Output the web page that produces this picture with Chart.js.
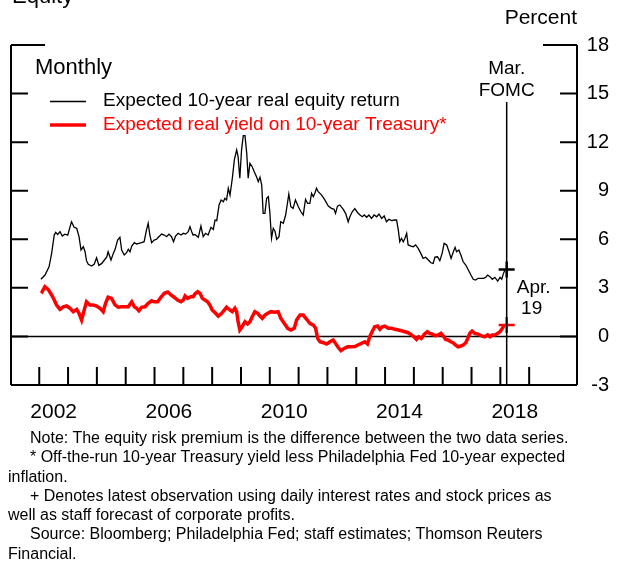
<!DOCTYPE html>
<html>
<head>
<meta charset="utf-8">
<script src="https://cdn.jsdelivr.net/npm/chart.js@4"></script>
<style>
  html, body { margin: 0; padding: 0; background: #fff; }
  #wrap { position: relative; width: 618px; height: 563px; overflow: hidden; }
  canvas { display: block; }
  #notes {
    position: absolute; left: 8px; top: 428px; width: 610px;
    font: 16px "Liberation Sans", Arial, sans-serif; line-height: 19.3px;
    color: #000; white-space: nowrap;
  }
  #notes p { margin: 0; text-indent: 22px; }
</style>
</head>
<body>
<div id="wrap">
  <canvas id="erp" width="618" height="563"></canvas>
  <div id="notes">
    <p>Note: The equity risk premium is the difference between the two data series.</p>
    <p>* Off-the-run 10-year Treasury yield less Philadelphia Fed 10-year expected<br>inflation.</p>
    <p>+ Denotes latest observation using daily interest rates and stock prices as<br>well as staff forecast of corporate profits.</p>
    <p>Source: Bloomberg; Philadelphia Fed; staff estimates; Thomson Reuters<br>Financial.</p>
  </div>
</div>
<script>
// monthly observations, dates in decimal years
const equityDates = [
  2002.06, 2002.20, 2002.34, 2002.43, 2002.52, 2002.57, 2002.64, 2002.72, 2002.80, 2002.89, 2002.99,
  2003.07, 2003.12, 2003.21, 2003.30, 2003.38, 2003.45, 2003.53, 2003.59, 2003.64, 2003.70, 2003.82, 2003.91, 2003.99,
  2004.07, 2004.17, 2004.26, 2004.34, 2004.39, 2004.49, 2004.57, 2004.63, 2004.72, 2004.80, 2004.86, 2004.95,
  2005.03, 2005.09, 2005.15, 2005.21, 2005.30, 2005.38, 2005.46, 2005.55, 2005.64, 2005.72, 2005.78, 2005.84, 2005.90, 2005.99,
  2006.07, 2006.15, 2006.25, 2006.34, 2006.42, 2006.50, 2006.59, 2006.66, 2006.73, 2006.82, 2006.92,
  2007.00, 2007.08, 2007.17, 2007.23, 2007.29, 2007.34, 2007.40, 2007.52, 2007.61, 2007.69, 2007.77, 2007.86, 2007.96,
  2008.04, 2008.10, 2008.16, 2008.24, 2008.31, 2008.39, 2008.44, 2008.50, 2008.56, 2008.62, 2008.70, 2008.77, 2008.85, 2008.90, 2008.96,
  2009.02, 2009.08, 2009.14, 2009.20, 2009.25, 2009.31, 2009.39, 2009.46, 2009.54, 2009.60, 2009.66, 2009.72, 2009.77, 2009.83, 2009.89, 2009.95,
  2010.00, 2010.06, 2010.12, 2010.18, 2010.24, 2010.32, 2010.38, 2010.47, 2010.55, 2010.62, 2010.66, 2010.73, 2010.81, 2010.89, 2010.99,
  2011.08, 2011.16, 2011.24, 2011.31, 2011.39, 2011.45, 2011.51, 2011.57, 2011.62, 2011.68, 2011.80, 2011.91,
  2012.03, 2012.14, 2012.23, 2012.28, 2012.35, 2012.43, 2012.55, 2012.63, 2012.72, 2012.78, 2012.86, 2012.95,
  2013.05, 2013.13, 2013.21, 2013.28, 2013.36, 2013.44, 2013.53, 2013.62, 2013.71, 2013.79, 2013.88, 2013.97,
  2014.05, 2014.13, 2014.23, 2014.32, 2014.40, 2014.46, 2014.51, 2014.57, 2014.63, 2014.69, 2014.75, 2014.80, 2014.90, 2014.98,
  2015.06, 2015.15, 2015.24, 2015.32, 2015.41, 2015.50, 2015.59, 2015.67, 2015.73, 2015.82, 2015.90, 2015.98,
  2016.05, 2016.14, 2016.22, 2016.29, 2016.37, 2016.43, 2016.48, 2016.56, 2016.63, 2016.71, 2016.80, 2016.89, 2016.98,
  2017.06, 2017.14, 2017.23, 2017.33, 2017.41, 2017.49, 2017.56, 2017.64, 2017.72, 2017.81, 2017.91, 2017.99,
  2018.05, 2018.10, 2018.16
];
const equityReturn = [
  3.53, 3.79, 4.30, 5.13, 6.26, 6.43, 6.30, 6.47, 6.20, 6.32, 6.26,
  6.78, 7.08, 6.74, 6.68, 6.16, 5.34, 5.54, 5.23, 4.68, 4.45, 4.35, 4.47, 4.86,
  4.39, 4.51, 4.72, 4.89, 5.23, 4.72, 5.13, 5.36, 5.95, 6.12, 5.34, 5.03,
  5.17, 5.38, 5.23, 5.58, 5.79, 5.71, 5.75, 5.79, 5.85, 6.57, 6.99, 6.26, 5.79, 5.95,
  6.00, 6.16, 6.32, 6.26, 6.16, 6.32, 6.16, 5.85, 6.20, 6.37, 6.26,
  6.37, 6.32, 6.47, 6.78, 6.47, 6.26, 6.30, 6.12, 6.82, 6.16, 6.37, 6.26, 6.74,
  6.61, 7.19, 7.15, 8.12, 8.43, 8.32, 8.53, 8.43, 9.15, 8.73, 9.77, 10.90, 11.51, 11.10, 9.77,
  11.51, 12.40, 12.40, 11.31, 9.77, 10.69, 10.48, 10.17, 9.86, 9.56, 9.83, 9.35, 7.60, 7.60, 8.53, 8.63,
  7.70, 6.06, 6.68, 6.50, 6.00, 6.16, 7.08, 6.99, 7.50, 8.32, 8.80, 8.01, 7.91, 8.43, 8.01,
  7.70, 7.50, 8.47, 8.22, 8.22, 8.84, 8.63, 8.88, 9.15, 8.94, 8.73, 8.43,
  8.05, 7.91, 7.85, 7.60, 8.05, 8.12, 7.85, 7.60, 7.08, 7.39, 7.70, 7.90,
  7.64, 7.50, 7.39, 7.50, 7.36, 7.50, 7.29, 7.50, 7.39, 7.56, 7.29, 7.44,
  7.08, 7.23, 7.15, 7.19, 7.19, 6.57, 5.85, 6.06, 5.85, 6.06, 6.37, 5.65, 5.58, 5.54,
  5.65, 5.44, 5.13, 4.82, 4.89, 4.72, 4.55, 4.51, 4.90, 4.92, 4.68, 5.13,
  5.75, 5.65, 5.23, 4.82, 5.23, 5.50, 5.23, 5.34, 5.03, 4.61, 4.41, 4.10, 3.79,
  3.53, 3.48, 3.59, 3.59, 3.59, 3.65, 3.79, 3.69, 3.53, 3.65, 3.42, 3.65,
  3.53, 3.85, 4.10
];

const yieldDates = [
  2002.06, 2002.10, 2002.20, 2002.31, 2002.43, 2002.52, 2002.60, 2002.72, 2002.83, 2002.95,
  2003.07, 2003.18, 2003.30, 2003.38, 2003.47, 2003.56, 2003.64, 2003.76, 2003.87, 2003.99,
  2004.11, 2004.22, 2004.30, 2004.39, 2004.51, 2004.63, 2004.74, 2004.86, 2004.97,
  2005.09, 2005.21, 2005.30, 2005.38, 2005.46, 2005.55, 2005.67, 2005.78, 2005.90, 2005.99,
  2006.11, 2006.22, 2006.34, 2006.46, 2006.57, 2006.68, 2006.80, 2006.92,
  2007.00, 2007.06, 2007.15, 2007.26, 2007.34, 2007.40, 2007.50, 2007.58, 2007.66, 2007.75, 2007.84, 2007.92,
  2008.00, 2008.10, 2008.21, 2008.33, 2008.42, 2008.50, 2008.62, 2008.70, 2008.79, 2008.85, 2008.90, 2008.96,
  2009.04, 2009.14, 2009.23, 2009.31, 2009.39, 2009.48, 2009.58, 2009.66, 2009.74, 2009.83, 2009.93,
  2010.04, 2010.18, 2010.29, 2010.38, 2010.50, 2010.62, 2010.73, 2010.85, 2010.93,
  2011.05, 2011.16, 2011.28, 2011.39, 2011.51, 2011.59, 2011.66, 2011.74, 2011.86, 2011.97,
  2012.09, 2012.20, 2012.28, 2012.37, 2012.47, 2012.58, 2012.70, 2012.81, 2012.95,
  2013.06, 2013.18, 2013.30, 2013.39, 2013.47, 2013.55, 2013.64, 2013.74, 2013.82, 2013.90, 2013.99,
  2014.11, 2014.23, 2014.34, 2014.46, 2014.57, 2014.69, 2014.80, 2014.92,
  2015.00, 2015.09, 2015.17, 2015.26, 2015.37, 2015.47, 2015.55, 2015.63, 2015.73, 2015.85, 2015.94,
  2016.02, 2016.10, 2016.19, 2016.28, 2016.36, 2016.44, 2016.53, 2016.63, 2016.71, 2016.80, 2016.87, 2016.94,
  2017.02, 2017.11, 2017.21, 2017.29, 2017.37, 2017.46, 2017.56, 2017.64, 2017.72, 2017.81, 2017.91, 2017.99,
  2018.07, 2018.14
];
const realYield = [
  2.82, 2.76, 3.07, 2.91, 2.56, 2.25, 1.94, 1.67, 1.83, 1.88,
  1.74, 1.53, 1.67, 1.43, 1.01, 1.63, 2.14, 1.94, 1.94, 1.88,
  1.74, 1.53, 2.04, 2.42, 2.35, 1.95, 1.80, 1.83, 1.83,
  1.83, 2.14, 1.83, 1.74, 1.59, 1.80, 1.83, 2.04, 2.20, 2.14,
  2.14, 2.42, 2.66, 2.74, 2.56, 2.42, 2.25, 2.14,
  2.25, 2.50, 2.35, 2.45, 2.45, 2.62, 2.76, 2.66, 2.35, 2.25, 2.14, 1.94,
  1.63, 1.46, 1.26, 1.43, 1.63, 1.80, 1.63, 1.53, 1.74, 1.53, 0.91, 0.40,
  0.60, 0.91, 0.77, 0.91, 1.22, 1.53, 1.43, 1.26, 1.12, 1.32, 1.43,
  1.53, 1.50, 1.53, 1.12, 0.81, 0.50, 0.40, 0.50, 1.01,
  1.32, 1.32, 1.06, 0.81, 0.70, 0.50, -0.12, -0.33, -0.39, -0.47,
  -0.33, -0.22, -0.43, -0.67, -0.88, -0.74, -0.64, -0.64, -0.62,
  -0.53, -0.43, -0.33, -0.47, -0.02, 0.29, 0.60, 0.64, 0.44, 0.60, 0.64,
  0.50, 0.50, 0.44, 0.40, 0.35, 0.29, 0.23, 0.09,
  -0.02, -0.18, -0.02, -0.12, 0.15, 0.29, 0.19, 0.15, 0.05, 0.09, 0.19,
  0.02, -0.18, -0.22, -0.33, -0.39, -0.53, -0.64, -0.59, -0.53, -0.39, -0.12, 0.19,
  0.33, 0.19, 0.15, 0.09, 0.02, -0.02, 0.09, -0.02, 0.09, 0.09, 0.19, 0.29,
  0.50, 0.70
];

// latest daily observation (the "+" marks) and the March FOMC date
const fomcDate = 2018.22;
const latestEquity = 4.14;
const latestYield = 0.70;

const yTicks = [-3, 0, 3, 6, 9, 12, 15, 18];
const yearTicks = [2002, 2003, 2004, 2005, 2006, 2007, 2008, 2009, 2010,
                   2011, 2012, 2013, 2014, 2015, 2016, 2017, 2018, 2019];
const yearLabels = [2002, 2006, 2010, 2014, 2018];

const FONT = '"Liberation Sans", Arial, sans-serif';

function pairs(xs, ys) {
  return xs.map((t, i) => ({ x: t, y: ys[i] }));
}

// frame, ticks, labels and annotations drawn by hand
const decorations = {
  id: 'decorations',
  beforeDatasetsDraw(chart) {
    const { ctx, chartArea: a, scales: { y } } = chart;
    ctx.save();
    ctx.strokeStyle = '#000';
    ctx.lineWidth = 1.5;
    const y0 = y.getPixelForValue(0);
    ctx.beginPath();
    ctx.moveTo(a.left, y0);
    ctx.lineTo(a.right, y0);
    ctx.stroke();
    ctx.restore();
  },
  afterDatasetsDraw(chart) {
    const { ctx, chartArea: a, scales: { x, y } } = chart;
    ctx.save();
    ctx.strokeStyle = '#000';
    ctx.fillStyle = '#000';

    // left, right and bottom borders
    ctx.lineWidth = 2;
    ctx.beginPath();
    ctx.moveTo(a.left, a.top); ctx.lineTo(a.left, a.bottom);
    ctx.moveTo(a.right, a.top); ctx.lineTo(a.right, a.bottom);
    ctx.moveTo(a.left, a.bottom); ctx.lineTo(a.right, a.bottom);
    ctx.stroke();

    // value ticks on both sides, longer at the top
    yTicks.forEach(v => {
      const py = y.getPixelForValue(v);
      const len = v === 18 ? 34 : 17;
      ctx.beginPath();
      ctx.moveTo(a.left, py); ctx.lineTo(a.left + len, py);
      ctx.moveTo(a.right, py); ctx.lineTo(a.right - len, py);
      ctx.stroke();
    });

    // year ticks rising from the bottom
    yearTicks.forEach(t => {
      const px = x.getPixelForValue(t);
      ctx.beginPath();
      ctx.moveTo(px, a.bottom); ctx.lineTo(px, a.bottom - 18);
      ctx.stroke();
    });

    // FOMC marker line
    const fx = x.getPixelForValue(fomcDate);
    ctx.lineWidth = 1.5;
    ctx.beginPath();
    ctx.moveTo(fx, 102); ctx.lineTo(fx, a.bottom);
    ctx.stroke();

    ctx.textBaseline = 'middle';
    // year labels centred inside each year
    ctx.font = '21px ' + FONT;
    ctx.textAlign = 'center';
    yearLabels.forEach(t => ctx.fillText(String(t), x.getPixelForValue(t + 0.5), a.bottom + 27));

    // right-hand value labels
    ctx.font = '20px ' + FONT;
    ctx.textAlign = 'right';
    yTicks.forEach(v => ctx.fillText(String(v), 609, y.getPixelForValue(v)));

    ctx.font = '21px ' + FONT;
    ctx.fillText('Percent', a.right, 18);

    // title, mostly above the top edge
    ctx.textAlign = 'left';
    ctx.textBaseline = 'alphabetic';
    ctx.font = '22px ' + FONT;
    ctx.fillText('Equity', 12, 2.5);

    ctx.textBaseline = 'middle';
    ctx.font = '22px ' + FONT;
    ctx.fillText('Monthly', 35, 68);

    // legend
    ctx.font = '19px ' + FONT;
    ctx.lineWidth = 1.3;
    ctx.beginPath(); ctx.moveTo(50, 101.5); ctx.lineTo(86, 101.5); ctx.stroke();
    ctx.fillText('Expected 10-year real equity return', 103, 101);
    ctx.strokeStyle = '#ff0000';
    ctx.fillStyle = '#ff0000';
    ctx.lineWidth = 3.5;
    ctx.beginPath(); ctx.moveTo(50, 125); ctx.lineTo(86, 125); ctx.stroke();
    ctx.fillText('Expected real yield on 10-year Treasury*', 103, 125);

    // annotations
    ctx.fillStyle = '#000';
    ctx.textAlign = 'center';
    ctx.font = '19px ' + FONT;
    ctx.fillText('Mar.', fx, 69);
    ctx.fillText('FOMC', fx, 91);
    ctx.fillText('Apr.', fx + 27, 288);
    ctx.fillText('19', fx + 25, 309);
    ctx.restore();
  }
};

new Chart(document.getElementById('erp'), {
  type: 'line',
  data: {
    datasets: [
      {
        label: 'Expected 10-year real equity return',
        data: pairs(equityDates, equityReturn),
        borderColor: '#000',
        borderWidth: 1.3,
        pointRadius: 0,
        tension: 0
      },
      {
        label: 'Expected real yield on 10-year Treasury*',
        data: pairs(yieldDates, realYield),
        borderColor: '#ff0000',
        borderWidth: 3.5,
        pointRadius: 0,
        tension: 0
      },
      {
        type: 'scatter',
        data: [{ x: fomcDate, y: latestEquity }],
        pointStyle: 'cross',
        pointRadius: 8,
        borderColor: '#000',
        borderWidth: 2.5
      },
      {
        type: 'scatter',
        data: [{ x: fomcDate, y: latestYield }],
        pointStyle: 'cross',
        pointRadius: 8,
        borderColor: '#ff0000',
        borderWidth: 2.5
      }
    ]
  },
  options: {
    responsive: false,
    animation: false,
    devicePixelRatio: 1,
    layout: { padding: { left: 11, top: 45, right: 41, bottom: 178 } },
    scales: {
      x: { type: 'linear', min: 2001.02, max: 2020.66, display: false },
      y: { min: -3, max: 18, display: false }
    },
    plugins: { legend: { display: false }, tooltip: { enabled: false } }
  },
  plugins: [decorations]
});
</script>
</body>
</html>
